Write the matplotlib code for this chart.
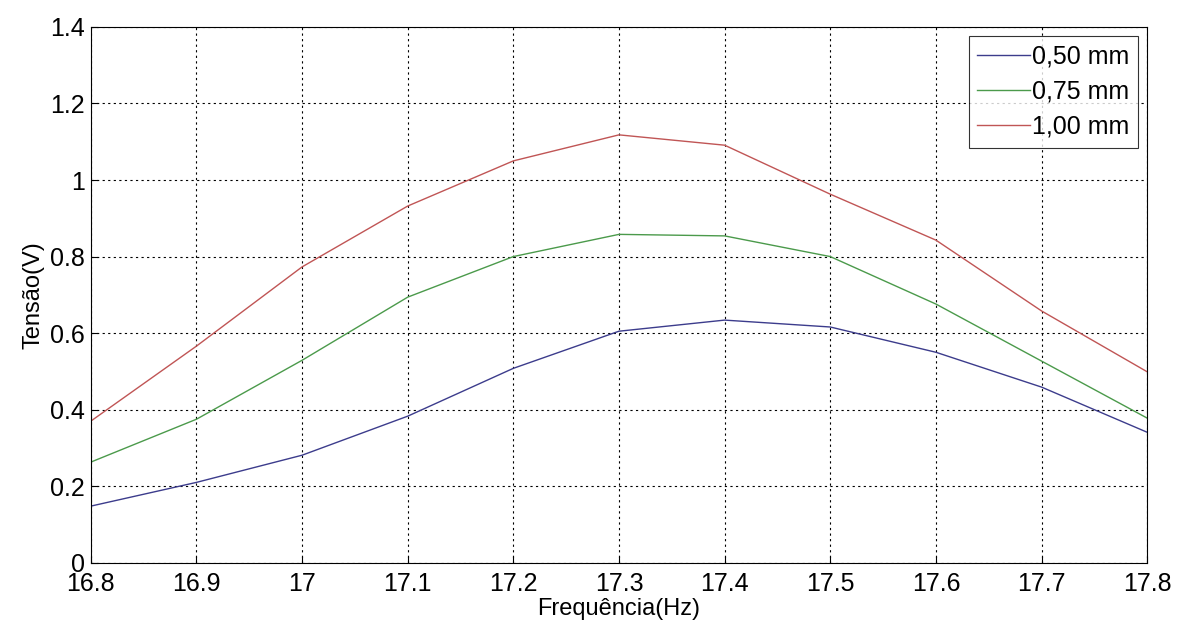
import matplotlib.pyplot as plt

plt.rcParams['font.family'] = ['Liberation Sans', 'DejaVu Sans']

freq = [16.8, 16.9, 17.0, 17.1, 17.2, 17.3, 17.4, 17.5, 17.6, 17.7, 17.8]
v050 = [0.148, 0.210, 0.281, 0.383, 0.508, 0.605, 0.634, 0.616, 0.550, 0.459, 0.341]
v075 = [0.263, 0.375, 0.529, 0.694, 0.800, 0.858, 0.854, 0.800, 0.676, 0.527, 0.378]
v100 = [0.370, 0.566, 0.773, 0.932, 1.050, 1.118, 1.091, 0.963, 0.843, 0.658, 0.499]
labels = ['0,50 mm', '0,75 mm', '1,00 mm']

fig = plt.figure(figsize=(11.79, 6.26), dpi=100)
ax = fig.add_axes([0.077, 0.101, 0.896, 0.856])

ax.plot(freq, v050, color='#3c3c8c', lw=1.0, label=labels[0])
ax.plot(freq, v075, color='#4b9a4b', lw=1.0, label=labels[1])
ax.plot(freq, v100, color='#c05555', lw=1.0, label=labels[2])

ax.set_xlim(16.8, 17.8)
ax.set_ylim(0, 1.4)
ax.set_xticks(freq)
ax.set_xticklabels(['16.8', '16.9', '17', '17.1', '17.2', '17.3', '17.4', '17.5', '17.6', '17.7', '17.8'])
ax.set_yticks([0, 0.2, 0.4, 0.6, 0.8, 1.0, 1.2, 1.4])
ax.set_yticklabels(['0', '0.2', '0.4', '0.6', '0.8', '1', '1.2', '1.4'])
ax.tick_params(direction='in', labelsize=18, length=5)
ax.tick_params(axis='x', pad=7)
ax.tick_params(axis='y', pad=4)
ax.grid(True, color='black', linestyle=(0, (2, 3)), linewidth=0.8)

ax.set_xlabel('Frequência(Hz)', fontsize=17, labelpad=1)
ax.set_ylabel('Tensão(V)', fontsize=17, labelpad=4)

leg = ax.legend(loc='upper right', fontsize=18, handlelength=2.1, handletextpad=0.1,
                borderpad=0.35, labelspacing=0.45, borderaxespad=0.35, fancybox=False)
leg.get_frame().set_edgecolor('black')
leg.get_frame().set_linewidth(0.8)

fig.savefig('out.png')
